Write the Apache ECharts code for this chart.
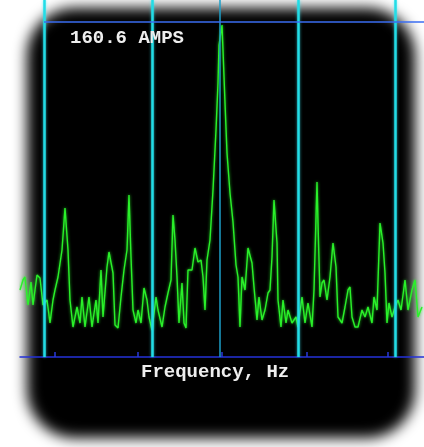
<!DOCTYPE html>
<html>
<head>
<meta charset="utf-8">
<script src="https://cdn.jsdelivr.net/npm/echarts@6/dist/echarts.min.js"></script>
<style>
  html, body { margin:0; padding:0; background:#fff; }
  #wrap { position:relative; width:424px; height:447px; overflow:hidden; background:#fff; }
  #panel { position:absolute; left:27px; top:8px; width:388px; height:430px; background:#000; border-radius:48px; filter:blur(7px); }
  #chart { position:absolute; left:0; top:0; width:424px; height:447px; }
</style>
</head>
<body>
<div id="wrap">
  <div id="panel"></div>
  <div id="chart"></div>
</div>
<script>
// Frequency (relative units) and amplitude (relative units)
const freq = [0,3,5,8,11,13,17,20,23,27,30,33,35,38,42,45,48,50,53,57,60,62,65,69,72,76,78,81,83,87,89,93,95,98,101,104,107,109,111,113,116,118,121,124,127,129,132,136,138,142,145,148,151,153,155,157,159,162,164,166,168,172,175,178,181,183,185,187,190,193,196,198,199,202,203,205,207,210,213,216,218,220,222,225,228,232,234,237,239,242,245,248,250,252,254,257,258,261,263,266,268,272,276,278,282,285,288,292,294,297,298,300,302,304,307,310,313,316,318,322,325,328,330,332,335,338,342,345,348,352,354,357,360,363,365,367,369,372,375,378,381,385,388,392,395,398,402];
const amp = [67,77,80,52,75,52,82,79,52,57,34,57,67,80,107,149,107,57,30,50,34,60,30,60,30,57,34,87,40,90,105,84,32,29,60,87,107,162,100,47,34,47,34,69,57,40,27,60,47,30,50,64,77,142,117,80,34,74,34,29,87,87,109,95,97,80,47,97,117,167,227,274,312,332,307,254,204,164,135,92,80,30,80,67,109,94,70,37,60,37,47,64,67,100,157,114,57,30,57,34,47,34,40,30,60,34,54,30,67,175,134,60,74,77,57,80,114,90,40,34,50,67,70,40,30,30,47,40,50,34,60,47,134,114,84,34,54,40,50,57,47,77,47,67,77,40,50];
const cursorLines = [24, 132, 278, 375];
const centerLine = [200];
const minorTicks = [35, 118, 202, 287, 368];
const refLevel = 335;
const titleText = '160.6 AMPS';
const axisTitle = 'Frequency, Hz';

const chart = echarts.init(document.getElementById('chart'), null, {renderer:'canvas'});
const pts = freq.map((f, i) => [f, amp[i]]);
chart.setOption({
  backgroundColor: 'transparent',
  animation: false,
  title: [
    { text: titleText, left: 65, top: 24, textStyle: { color:'#eeeeee', fontFamily:'Liberation Mono', fontWeight:'bold', fontSize:19 } },
    { text: axisTitle, left: 136, top: 358, textStyle: { color:'#eeeeee', fontFamily:'Liberation Mono', fontWeight:'bold', fontSize:19 } }
  ],
  grid: { left: 20, right: 0, top: 0, bottom: 90 },
  xAxis: {
    type: 'value', min: 0, max: 404,
    axisLine: { show: true, lineStyle: { color:'#2432d8', width: 1.5 } },
    axisTick: { show: true, inside: true, length: 5, customValues: minorTicks, lineStyle: { color:'#2a3ad8', width: 1.5 } },
    axisLabel: { show:false }, splitLine: { show:false }
  },
  yAxis: {
    type: 'value', min: 0, max: 357,
    axisLine: { show:false }, axisTick: { show:false }, axisLabel: { show:false }, splitLine: { show:false }
  },
  series: [
    {
      type: 'line', data: pts, symbol: 'none', silent: true, z: 3,
      lineStyle: { color:'#2af02a', width: 1.4, shadowColor:'rgba(40,255,40,0.8)', shadowBlur: 3 },
      markLine: {
        silent: true, symbol: 'none', label: { show:false },
        data: [
          ...cursorLines.map(v => ({ xAxis: v, lineStyle: { color:'#22dde6', width: 2.5, type:'solid', shadowColor:'rgba(60,240,255,0.7)', shadowBlur:3 } })),
          ...centerLine.map(v => ({ xAxis: v, lineStyle: { color:'#1c9fc8', width: 1.5, type:'solid' } })),
          [ { coord: [cursorLines[0], refLevel], lineStyle: { color:'#3a6cf0', width: 1.5, type:'solid' } }, { coord: [404, refLevel] } ]
        ]
      }
    }
  ]
});
</script>
</body>
</html>
